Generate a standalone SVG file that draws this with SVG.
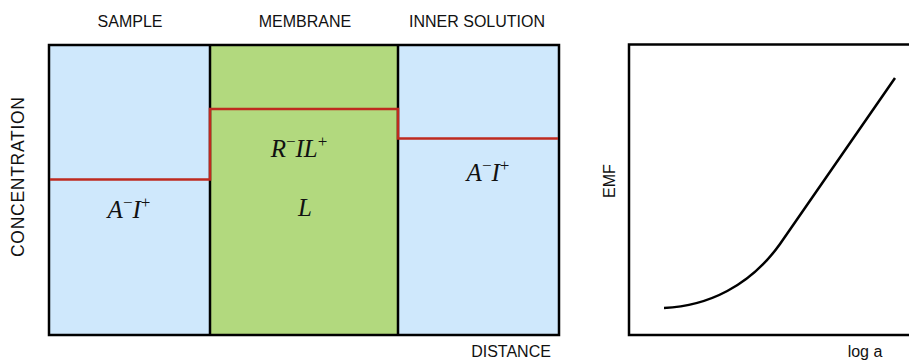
<svg xmlns="http://www.w3.org/2000/svg" width="909" height="361" viewBox="0 0 909 361">
<style>
.lbl{font-family:"Liberation Sans",Arial,sans-serif;font-size:16px;fill:#111;}
.math{font-family:"Liberation Serif","Times New Roman",serif;font-style:italic;font-size:25px;fill:#111;}
.sup{font-size:17px;font-style:normal;}
.edge{fill:none;stroke:#000;stroke-width:2.5;}
.prof{fill:none;stroke:#bf2a1f;stroke-width:2.5;}
</style>
<rect width="909" height="361" fill="#fff"/>
<g id="sample">
<rect x="49" y="45" width="161" height="290" fill="#cfe8fc"/>
<text class="lbl" x="130" y="27" text-anchor="middle">SAMPLE</text>
<text class="math" x="129" y="218" text-anchor="middle">A<tspan class="sup" dy="-10">−</tspan><tspan dy="10">I</tspan><tspan class="sup" dy="-10">+</tspan></text>
</g>
<g id="membrane">
<rect x="210" y="45" width="188" height="290" fill="#b2d97e"/>
<text class="lbl" x="305" y="27" text-anchor="middle">MEMBRANE</text>
<text class="math" x="299" y="157" text-anchor="middle">R<tspan class="sup" dy="-10">−</tspan><tspan dy="10">IL</tspan><tspan class="sup" dy="-10">+</tspan></text>
<text class="math" x="305" y="216" text-anchor="middle">L</text>
</g>
<g id="inner">
<rect x="398" y="45" width="161" height="290" fill="#cfe8fc"/>
<text class="lbl" x="477" y="27" text-anchor="middle">INNER SOLUTION</text>
<text class="math" x="488" y="181" text-anchor="middle">A<tspan class="sup" dy="-10">−</tspan><tspan dy="10">I</tspan><tspan class="sup" dy="-10">+</tspan></text>
</g>
<g id="axes-left">
<text class="lbl" transform="translate(24,177) rotate(-90)" text-anchor="middle" style="font-size:17.5px" textLength="160" lengthAdjust="spacing">CONCENTRATION</text>
<text class="lbl" x="511" y="357" text-anchor="middle">DISTANCE</text>
</g>
<g id="frame">
<rect class="edge" x="49" y="45" width="510" height="290"/>
<line class="edge" x1="210" y1="45" x2="210" y2="335"/>
<line class="edge" x1="398" y1="45" x2="398" y2="335"/>
</g>
<g id="connectors">
<path class="prof" d="M50,179.5 H210 V109 H398 V138.5 H558"/>
</g>
<g id="plot">
<rect class="edge" x="629" y="44.5" width="300" height="290.5"/>
<text class="lbl" transform="translate(615,181) rotate(-90)" text-anchor="middle">EMF</text>
<text class="lbl" x="865" y="357" text-anchor="middle">log a</text>
<path d="M664,308 C708,306 750,286 780,244 L895,78" fill="none" stroke="#000" stroke-width="2.5"/>
</g>
</svg>
